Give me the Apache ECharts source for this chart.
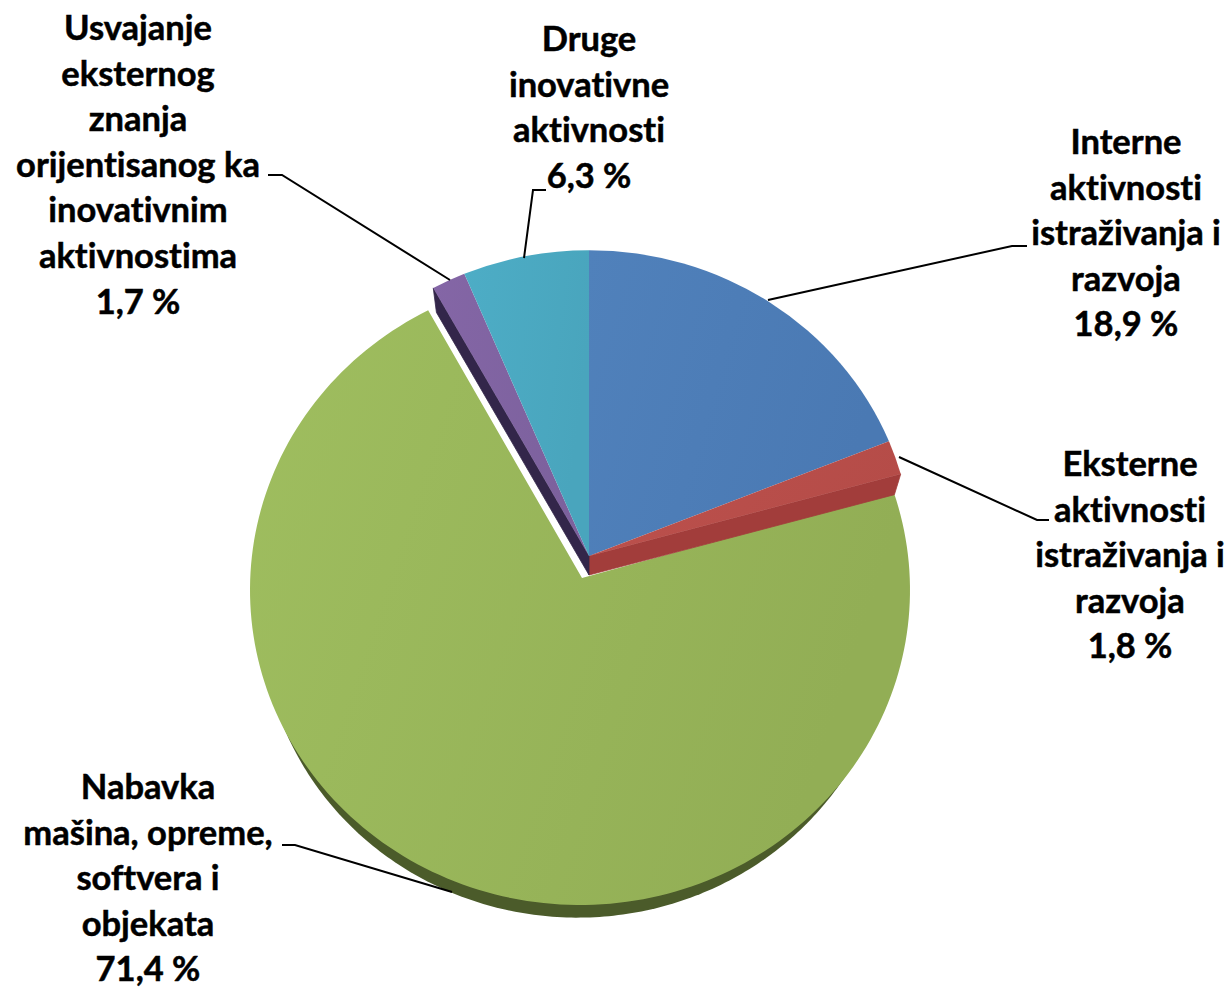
<!DOCTYPE html>
<html><head><meta charset="utf-8">
<style>html,body{margin:0;padding:0;background:#fff}#c{width:1232px;height:987px}#c text{font-variant-ligatures:none !important;font-feature-settings:"liga" 0,"clig" 0 !important}</style>
<script src="https://cdn.jsdelivr.net/npm/echarts@6/dist/echarts.min.js"></script>
</head><body><div id="c"></div>
<script>
const categories = [
  'Interne aktivnosti istraživanja i razvoja',
  'Eksterne aktivnosti istraživanja i razvoja',
  'Nabavka mašina, opreme, softvera i objekata',
  'Usvajanje eksternog znanja orijentisanog ka inovativnim aktivnostima',
  'Druge inovativne aktivnosti'
];
const shares = [18.9, 1.8, 71.4, 1.7, 6.3];
const valueTexts = ['18,9 %', '1,8 %', '71,4 %', '1,7 %', '6,3 %'];
const labelLines = [
  ['Interne', 'aktivnosti', 'istraživanja i', 'razvoja'],
  ['Eksterne', 'aktivnosti', 'istraživanja i', 'razvoja'],
  ['Nabavka', 'mašina, opreme,', 'softvera i', 'objekata'],
  ['Usvajanje', 'eksternog', 'znanja', 'orijentisanog ka', 'inovativnim', 'aktivnostima'],
  ['Druge', 'inovativne', 'aktivnosti']
];

// Styling and layout (not data)
const topColors = [['#5081bb','#4a79b3'],['#bd514d','#b54c48'],['#9fbe5f','#92ae55'],['#8466a6','#7c619d'],['#4dadc6','#49a5bd']];
const wallColors = ['#3c5f8a','#a23d3b','#4b5b2a','#33264a','#2f7f93'];
const FLAT = 0.945;
const pieBody = {cx:589, cy:556, r:323.6, depth:19, wallR:317};
const exploded = 2;
// the pulled-out slice is seen in perspective: its apex sits above the centre of its rim ellipse
const explodedBody = {apexX:582, apexY:578, cx:580, cy:590, rx:330, ry:315, startTweak:-0.044, endTweak:0.024};
const shadow = {dx:-2.5, dy:26, shrink:14};
const labelBoxes = [
  {x:1126, y:140.5, pts:[[768,300],[1012,246],[1027,246]]},
  {x:1130, y:462.5, pts:[[899,457],[1037,520],[1049,520]]},
  {x:148,  y:785.5, pts:[[452,892],[295,845],[282,845]]},
  {x:138,  y:26.5,  pts:[[450,280],[282,175],[268,175]]},
  {x:589,  y:37.5,  pts:[[524,258],[533,190],[546,190]]}
];
const LINE_H = 45.6;
const total = shares.reduce((a,b)=>a+b,0);

function angleAt(i){ // clockwise from 12 o'clock, in radians
  let s = 0; for (let k=0;k<i;k++) s += shares[k];
  return s/total*2*Math.PI;
}
function grad(c){return {type:'linear',x:0,y:0,x2:1,y2:0.3,colorStops:[{offset:0,color:c[0]},{offset:1,color:c[1]}]};}
function sector(cx,cy,r,a0,a1,fill,z2){
  return {type:'sector',x:cx,y:cy,scaleY:FLAT,z2:z2,
    shape:{cx:0,cy:0,r0:0,r:r,startAngle:a0-Math.PI/2,endAngle:a1-Math.PI/2,clockwise:true},
    style:{fill:fill}};
}
function arcPoints(cx,cy,rx,ry,a0,a1){
  const pts=[], n=180;
  for(let k=0;k<=n;k++){const a=a0+(a1-a0)*k/n; pts.push([cx+rx*Math.sin(a),cy-ry*Math.cos(a)]);}
  return pts;
}
function wall(a,color){
  const b=pieBody, s=Math.sin(a), c=Math.cos(a);
  return {type:'polygon',z2:3,
    shape:{points:[[b.cx,b.cy],[b.cx+b.r*s,b.cy-b.r*c*FLAT],
                   [b.cx+b.wallR*s,b.cy+b.depth-b.wallR*c*FLAT],[b.cx,b.cy+b.depth]]},
    style:{fill:color,stroke:color,lineWidth:0.8}};
}
function renderSlice(params,api){
  const i=params.dataIndex, a0=angleAt(i), a1=angleAt(i+1), kids=[];
  if(i===exploded){
    const e=explodedBody, s=shadow, A0=a0+e.startTweak, A1=a1+e.endTweak, k=e.ry/e.rx;
    kids.push({type:'polygon',z2:0,
      shape:{points:arcPoints(e.cx+s.dx,e.cy+s.dy,e.rx-s.shrink,(e.rx-s.shrink)*k,a0+0.7,a1-1.1)},
      style:{fill:wallColors[i]}});
    kids.push({type:'polygon',z2:1,
      shape:{points:[[e.apexX,e.apexY]].concat(arcPoints(e.cx,e.cy,e.rx,e.ry,A0,A1))},
      style:{fill:grad(topColors[i])}});
  } else {
    const b=pieBody;
    if(i===1) kids.push(wall(a1,wallColors[i]));
    if(i===3) kids.push(wall(a0,wallColors[i]));
    kids.push(sector(b.cx,b.cy,b.r,a0,a1,grad(topColors[i]),4));
  }
  return {type:'group',children:kids};
}
function renderLabel(params,api){
  const i=params.dataIndex, box=labelBoxes[i];
  const lines=labelLines[i].concat(valueTexts[i]);
  const kids=[{type:'polyline',z2:6,shape:{points:box.pts},style:{fill:null,stroke:'#000',lineWidth:2}}];
  lines.forEach((t,n)=>kids.push({type:'text',z2:7,style:{
    text:t,x:box.x,y:box.y+n*LINE_H,align:'center',verticalAlign:'middle',
    font:'bold 34.5px Lato, "Noto Sans", sans-serif',fill:'#000',stroke:'#000',lineWidth:0.5}}));
  return {type:'group',children:kids};
}
const seriesData = shares.map((v,i)=>({name:categories[i],value:v}));
const chart = echarts.init(document.getElementById('c'),null,{renderer:'svg'});
chart.setOption({
  animation:false, backgroundColor:'#fff',
  series:[
    {type:'custom',coordinateSystem:'none',silent:true,data:seriesData,renderItem:renderSlice,z:1},
    {type:'custom',coordinateSystem:'none',silent:true,data:seriesData,renderItem:renderLabel,z:2}
  ]
});
</script></body></html>
